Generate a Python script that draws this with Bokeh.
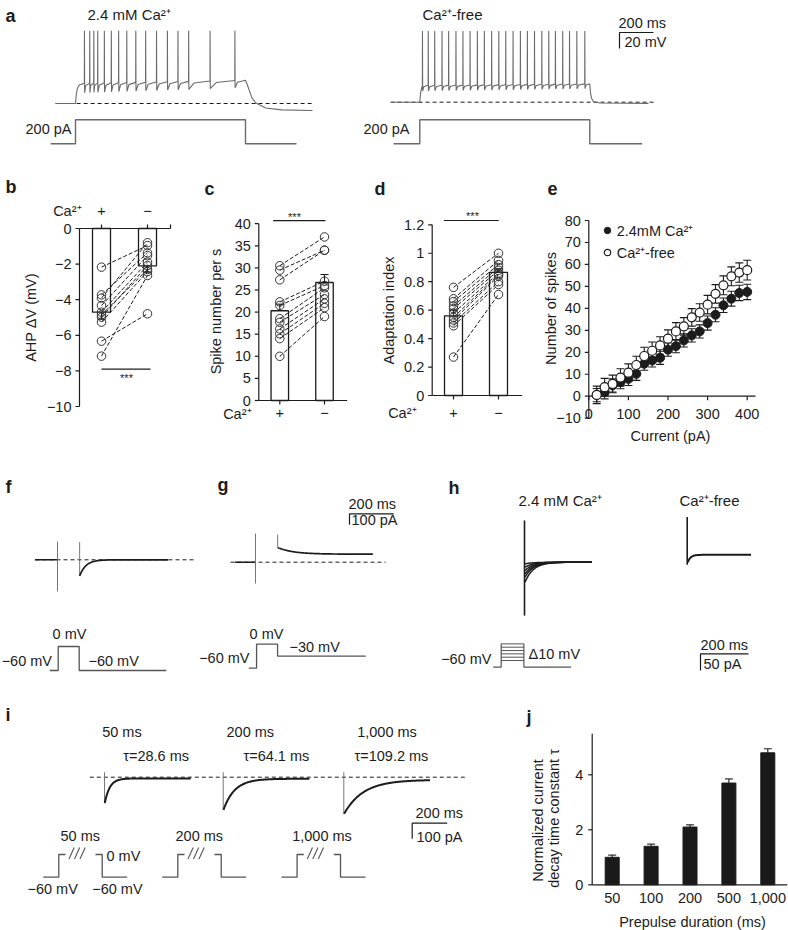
import math
from bokeh.plotting import figure
from bokeh.layouts import column, row
from bokeh.models import (Range1d, Label, Legend, LegendItem, Whisker, ColumnDataSource)
from bokeh.core.properties import value
from bokeh.embed import file_html
from bokeh.resources import INLINE

# ======================= data =======================
# a: spike times (ms after onset of a 1,000 ms, 200 pA current step)
spikes_ca = [52, 83, 107, 130, 169, 210, 253, 301, 354, 412, 476, 540, 602, 665, 791, 937]
spikes_free = [15, 49, 87, 130, 169, 212, 253, 295, 338, 379, 422, 464, 505, 548, 591,
               632, 674, 717, 758, 797, 840, 880, 923, 970]
step_pA = 200
step_ms = 1000

# b: AHP dV (mV), paired cells
ahp_ca = [-2.17, -3.73, -3.91, -4.33, -4.70, -4.98, -5.26, -6.33, -7.17, -4.85]
ahp_free = [-0.96, -1.37, -0.80, -1.52, -1.89, -2.08, -2.42, -4.79, -2.64, -2.30]
ahp_mean = [-4.7, -2.1]
ahp_sem = [0.4, 0.35]
ahp_ticks = [0, -2, -4, -6, -8, -10]

# c: spike number per s
rate_ca = [30.5, 29.5, 27.3, 22.3, 21.5, 18.5, 17.7, 16.2, 15.1, 14.0, 10.0]
rate_free = [37.0, 34.0, 34.0, 27.0, 26.0, 25.5, 24.0, 23.0, 22.0, 21.0, 19.0]
rate_mean = [20.3, 26.7]
rate_sem = [1.5, 1.8]
rate_ticks = [0, 5, 10, 15, 20, 25, 30, 35, 40]

# d: adaptation index
adapt_ca = [0.76, 0.68, 0.66, 0.63, 0.61, 0.58, 0.55, 0.53, 0.51, 0.49, 0.27]
adapt_free = [1.00, 0.95, 0.92, 0.90, 0.88, 0.86, 0.85, 0.84, 0.80, 0.78, 0.71]
adapt_mean = [0.56, 0.865]
adapt_sem = [0.04, 0.025]
adapt_ticks = [0, 0.2, 0.4, 0.6, 0.8, 1.0, 1.2]

cond_labels = ["+", "\u2212"]

# e: number of spikes vs injected current
current_pA = [20, 40, 60, 80, 100, 120, 140, 160, 180, 200,
              220, 240, 260, 280, 300, 320, 340, 360, 380, 400]
nspk_ca = [0.5, 1.8, 4.9, 6.4, 7.9, 10.2, 14.8, 16.3, 17.5, 21.2,
           22.8, 25.4, 27.7, 29.5, 33.3, 37.1, 41.4, 44.4, 47.0, 47.5]
nspk_ca_err = [3.0, 3.0, 3.0, 3.0, 3.0, 3.0, 3.0, 3.0, 3.0, 3.0,
               3.0, 3.0, 3.0, 3.0, 3.2, 3.2, 3.3, 3.4, 3.5, 3.5]
nspk_free = [0.6, 4.1, 5.6, 8.5, 10.7, 14.2, 18.3, 20.7, 23.1, 26.2,
             29.5, 31.8, 35.9, 38.1, 41.7, 46.6, 50.5, 54.6, 56.3, 57.4]
nspk_free_err = [4.0, 4.0, 4.0, 4.0, 4.0, 4.0, 4.0, 4.0, 4.0, 4.0,
                 4.0, 4.0, 4.0, 4.0, 4.2, 4.2, 4.3, 4.3, 4.4, 4.5]
e_xticks = [0, 100, 200, 300, 400]
e_yticks = [-10, 0, 10, 20, 30, 40, 50, 60, 70, 80]

# f: tail current at -60 mV after a 100 ms step to 0 mV
f_step_ms = 100
f_tail_pA = -147
f_tau_ms = 28
f_artifact_pA = [(166, -288), (161, -147)]
# g: tail current at -30 mV
g_tail_peak_pA = 134
g_tail_ss_pA = 73
g_tau_ms = 70
g_artifact_pA = [(261, -194), (252, 134)]
# h: tails after depolarising steps (delta 10 mV)
h_steps_mV = [-40, -30, -20, -10, 0, 10]
h_tail_ca_pA = [-5, -15, -25, -35, -45, -60]
h_tau_ca_ms = 35
h_tail_free_pA = -23
h_tau_free_ms = 12
h_artifact_ca_pA = (125, -160)
h_artifact_free_pA = (113, -30)
# i: tails after 50 / 200 / 1,000 ms prepulses
i_prepulse = ["50 ms", "200 ms", "1,000 ms"]
i_tau_ms = [28.6, 64.1, 109.2]
i_amp_pA = [-158, -199, -218]
i_ss_pA = [-8, -10, -17]
i_artifact_pA = 32
# j: normalised decay time constant
j_labels = ["50", "100", "200", "500", "1,000"]
j_tau_norm = [1.0, 1.4, 2.1, 3.7, 4.8]
j_err = [0.08, 0.08, 0.08, 0.15, 0.15]
j_yticks = [0, 2, 4]

# ======================= helpers =======================
R0 = 0            # the Bokeh page template has no body margin
W_TOT, H_TOT = 788, 930
FONT = "Liberation Sans"
INK = "#1c1c1c"
TR = "#6a6a6a"
PROT = "#555555"


def px(v, lim):
    return max(0, min(lim, int(round(v - R0))))


def fs(v):
    return f"{v:.1f}px"


def base_fig(**kw):
    p = figure(toolbar_location=None, output_backend="svg", x_axis_type=None,
               y_axis_type=None, min_border=0, **kw)
    p.outline_line_color = None
    p.background_fill_color = "white"
    p.border_fill_color = "white"
    return p


def trace_fig(x0, y0, x1, y1):
    P0, P1, Q0, Q1 = px(x0, W_TOT), px(x1, W_TOT), px(y0, H_TOT), px(y1, H_TOT)
    return base_fig(width=P1 - P0, height=Q1 - Q0,
                    x_range=Range1d(P0 + R0, P1 + R0), y_range=Range1d(Q1 + R0, Q0 + R0))


def label(p, x, y, text, size=14.5, align="left", bold=False, angle=0.0,
          color=INK, baseline="middle"):
    p.add_layout(Label(x=x, y=y, text=text, text_font=FONT, text_font_size=fs(size),
                       text_align=align, text_baseline=baseline, angle=angle,
                       text_font_style="bold" if bold else "normal", text_color=color))


def chart_fig(box, xmap, ymap):
    """Figure whose data scale maps values to the layout (layout px = a + b*value)."""
    X0, Y0, X1, Y1 = box
    P0, P1, Q0, Q1 = px(X0, W_TOT), px(X1, W_TOT), px(Y0, H_TOT), px(Y1, H_TOT)
    a, b = xmap
    c, d = ymap

    def xd(r):
        return (r - a) / b

    def yd(r):
        return (r - c) / d

    p = base_fig(width=P1 - P0, height=Q1 - Q0,
                 x_range=Range1d(xd(P0 + R0), xd(P1 + R0)),
                 y_range=Range1d(yd(Q1 + R0), yd(Q0 + R0)))
    return p, xd, yd, P0, Q1


def texts(p, xs, ys, labels, size=14.5, align="center", baseline="middle"):
    p.text(x=xs, y=ys, text=labels, text_font=value(FONT), text_font_size=value(fs(size)),
           text_align=align, text_baseline=baseline, text_color=INK)


def y_axis(p, xd, yd, x_ref, lo, hi, ticks, labels, tick=4, gap=4):
    xa = xd(x_ref)
    p.line([xa, xa], [lo, hi], line_color=INK, line_width=1.2)
    p.segment(x0=[xa] * len(ticks), y0=ticks, x1=[xd(x_ref - tick)] * len(ticks), y1=ticks,
              line_color=INK, line_width=1.2)
    texts(p, [xd(x_ref - tick - gap)] * len(ticks), ticks, labels, align="right")


def x_axis(p, xd, yd, y_ref, lo, hi, ticks, labels, label_y_ref, tick=4, y_val=0.0):
    p.line([lo, hi], [y_val, y_val], line_color=INK, line_width=1.2)
    if tick:
        p.segment(x0=ticks, y0=[y_val] * len(ticks), x1=ticks, y1=[yd(y_ref + tick)] * len(ticks),
                  line_color=INK, line_width=1.2)
    lt = [t for t, s in zip(ticks, labels) if s]
    ls = [s for s in labels if s]
    texts(p, lt, [yd(label_y_ref)] * len(lt), ls)


def num_labels(ticks):
    return [("%g" % t).replace("-", "\u2212") for t in ticks]


def whiskers(p, xs, lo, hi, size=8, lower_head=True):
    src = ColumnDataSource(dict(x=xs, lo=lo, hi=hi))
    w = Whisker(source=src, base="x", lower="lo", upper="hi", dimension="height",
                line_color=INK, line_width=1.1)
    w.upper_head.size = size
    w.upper_head.line_color = INK
    w.upper_head.line_width = 1.1
    if lower_head:
        w.lower_head.size = size
        w.lower_head.line_color = INK
        w.lower_head.line_width = 1.1
    else:
        w.lower_head = None
    p.add_layout(w)


def paired_panel(p, ca, free, mean, sem, bar_w):
    neg = mean[0] < 0
    p.vbar(x=[1, 2], top=[0, 0] if neg else mean, bottom=mean if neg else [0, 0], width=bar_w,
           fill_color="white", line_color=INK, line_width=1.3)
    p.multi_line(xs=[[1, 2] for _ in ca], ys=[[a, b] for a, b in zip(ca, free)],
                 line_color=INK, line_width=1.0, line_dash="4 2")
    p.scatter([1] * len(ca), ca, marker="circle", size=8.5, fill_color=None,
              line_color="#333333", line_width=1.0)
    p.scatter([2] * len(free), free, marker="circle", size=8.5, fill_color=None,
              line_color="#333333", line_width=1.0)
    whiskers(p, [1, 2], [m - e for m, e in zip(mean, sem)],
             [m + e for m, e in zip(mean, sem)], size=8)


CA = "Ca\u00b2\u207a"

# ======================= panel a =======================
pa = trace_fig(0, 0, 788, 165)
label(pa, 5, 15.5, "a", 18, bold=True, baseline="alphabetic")
A_MS_PX = 200 / 34
A_MV_PX = 20 / 16
A_PA_PX = 200 / 24


def membrane(spikes, rest, rise, pre, trough, peak, off, t_start):
    T = [t_start, 0.0]
    V = [rest, rest]
    for t, v in rise:
        T.append(t)
        V.append(v)
    for k, ts in enumerate(spikes):
        fr = ts / step_ms
        vp = pre[0] + (pre[1] - pre[0]) * fr
        vt = trough[0] + (trough[1] - trough[0]) * fr
        nxt = spikes[k + 1] if k + 1 < len(spikes) else step_ms
        fr2 = nxt / step_ms
        vp2 = pre[0] + (pre[1] - pre[0]) * fr2
        gap = nxt - ts
        T += [ts, ts + 0.7, ts + 1.8, ts + 0.25 * gap, nxt - 0.5]
        V += [vp, peak, vt, vt + 0.75 * (vp2 - vt), vp2]
    for t, v in off:
        T.append(t)
        V.append(v)
    return T, V


a_cfg = [
    dict(x_on=75.0, y_rest=103.0, spikes=spikes_ca, t0=-117, t_dash=(-117, 1394),
         rise=[(4, -60), (10, -52), (22, -47), (40, -45.5)], pre=(-45, -41),
         trough=(-57, -50), peak=21,
         off=[(1008, -45), (1038, -63), (1061, -69.4), (1119, -75.6), (1213, -78), (1394, -78.8)],
         cur=(-146, 1300), pa_x=71, title=("2.4 mM " + CA, 87)),
    dict(x_on=419.3, y_rest=101.7, spikes=spikes_free, t0=-161, t_dash=(-172, 1386),
         rise=[(5, -58), (11, -52)], pre=(-49, -47), trough=(-56, -53), peak=19,
         off=[(1004, -58), (1010, -65), (1022, -69.5), (1060, -71), (1345, -71.5)],
         cur=(-155, 1308), pa_x=409, title=(CA + "-free", 422)),
]
for cfg in a_cfg:
    T, V = membrane(cfg["spikes"], -70, cfg["rise"], cfg["pre"], cfg["trough"],
                    cfg["peak"], cfg["off"], cfg["t0"])
    xs = [cfg["x_on"] + t / A_MS_PX for t in T]
    ys = [cfg["y_rest"] - (v + 70) / A_MV_PX for v in V]
    td0, td1 = cfg["t_dash"]
    pa.line([cfg["x_on"] + td0 / A_MS_PX, cfg["x_on"] + td1 / A_MS_PX],
            [cfg["y_rest"], cfg["y_rest"]], line_color=INK, line_width=1.0, line_dash="4 3")
    pa.line(xs, ys, line_color=TR, line_width=1.1)
    c0, c1 = cfg["cur"]
    CT = [c0, 0, 0, step_ms, step_ms, c1]
    CI = [0, 0, step_pA, step_pA, 0, 0]
    pa.line([cfg["x_on"] + t / A_MS_PX for t in CT], [143.3 - i / A_PA_PX for i in CI],
            line_color=TR, line_width=1.4)
    label(pa, cfg["pa_x"], 128, "200 pA", 14.5, align="right")
    label(pa, cfg["title"][1], 14, cfg["title"][0], 15)
SBX, SBY = 619, 32
pa.line([SBX + 200 / A_MS_PX, SBX, SBX], [SBY, SBY, SBY + 20 / A_MV_PX],
        line_color=INK, line_width=1.2)
label(pa, 618, 22, "200 ms", 14.5)
label(pa, 624, 41, "20 mV", 14.5)

# ======================= panel b =======================
pb, bxd, byd, _, _ = chart_fig((0, 165, 195, 445), (55, 46), (228, -17.8))
paired_panel(pb, ahp_ca, ahp_free, ahp_mean, ahp_sem, 18 / 46)
y_axis(pb, bxd, byd, 79, -10, 0, ahp_ticks, num_labels(ahp_ticks))
pb.line([bxd(79), bxd(170)], [0, 0], line_color=INK, line_width=1.2)
pb.segment(x0=[1, 2, bxd(170)], y0=[0, 0, 0], x1=[1, 2, bxd(170)], y1=[byd(224)] * 3,
           line_color=INK, line_width=1.2)
texts(pb, [1, 2], [byd(210)] * 2, cond_labels)
label(pb, bxd(81), byd(210), CA, 14.5, align="right")
label(pb, bxd(30), byd(317), "AHP \u0394V (mV)", 14.5, align="center", angle=math.pi / 2)
pb.line([1, bxd(150)], [-7.9, -7.9], line_color=INK, line_width=1.1)
label(pb, bxd(126), byd(377), "***", 11, align="center")
label(pb, bxd(5), byd(186), "b", 18, bold=True)

# ======================= panel c =======================
pc, cxd, cyd, _, _ = chart_fig((195, 165, 370, 445), (234.6, 44.7), (400, -4.42))
paired_panel(pc, rate_ca, rate_free, rate_mean, rate_sem, 17.5 / 44.7)
y_axis(pc, cxd, cyd, 258.3, 0, 40, rate_ticks, num_labels(rate_ticks))
x_axis(pc, cxd, cyd, 400, cxd(258.3), cxd(346.7), [1, 2], cond_labels, 412.5)
label(pc, cxd(251), cyd(413), CA, 14.5, align="right")
label(pc, cxd(215), cyd(311), "Spike number per s", 14.5, align="center", angle=math.pi / 2)
pc.line([cxd(272.7), cxd(325)], [40.7, 40.7], line_color=INK, line_width=1.1)
label(pc, cxd(294), cyd(216), "***", 11, align="center")
label(pc, cxd(204), cyd(188), "c", 18, bold=True)

# ======================= panel d =======================
pd_, dxd, dyd, _, _ = chart_fig((370, 165, 535, 445), (408, 45), (395, -142.25))
paired_panel(pd_, adapt_ca, adapt_free, adapt_mean, adapt_sem, 18 / 45)
y_axis(pd_, dxd, dyd, 431.7, 0, 1.2, adapt_ticks, num_labels(adapt_ticks))
x_axis(pd_, dxd, dyd, 395, dxd(431.7), dxd(521.7), [1, 2], cond_labels, 412)
label(pd_, dxd(416), dyd(412), CA, 14.5, align="right")
label(pd_, dxd(388), dyd(310), "Adaptation index", 14.5, align="center", angle=math.pi / 2)
pd_.line([dxd(443.3), dxd(498.3)], [1.23, 1.23], line_color=INK, line_width=1.1)
label(pd_, dxd(472), dyd(215), "***", 11, align="center")
label(pd_, dxd(374), dyd(188), "d", 18, bold=True)

# ======================= panel e =======================
pe, exd, eyd, EP0, EQ1 = chart_fig((535, 165, 788, 445), (588.3, 0.396), (395.7, -2.196))
y_axis(pe, exd, eyd, 588.3, -10, 80, e_yticks, num_labels(e_yticks))
x_axis(pe, exd, eyd, 395.7, 0, exd(755), e_xticks, num_labels(e_xticks), 413)
label(pe, exd(670), eyd(435), "Current (pA)", 14.5, align="center")
label(pe, exd(550), eyd(308), "Number of spikes", 14.5, align="center", angle=math.pi / 2)
whiskers(pe, current_pA, [v - e for v, e in zip(nspk_ca, nspk_ca_err)],
         [v + e for v, e in zip(nspk_ca, nspk_ca_err)], size=8)
whiskers(pe, current_pA, [v - e for v, e in zip(nspk_free, nspk_free_err)],
         [v + e for v, e in zip(nspk_free, nspk_free_err)], size=8)
r_ca = pe.scatter(current_pA, nspk_ca, marker="circle", size=9, fill_color=INK,
                  line_color=INK, line_width=1.0)
r_free = pe.scatter(current_pA, nspk_free, marker="circle", size=9, fill_color="white",
                    line_color=INK, line_width=1.2)
leg = Legend(items=[LegendItem(label="2.4mM " + CA, renderers=[r_ca]),
                    LegendItem(label=CA + "-free", renderers=[r_free])],
             location=((598.7 - R0) - EP0, EQ1 - (262.3 - R0)),
             border_line_color=None, background_fill_alpha=0.0, padding=0, margin=0,
             spacing=2, glyph_width=16, glyph_height=16, label_height=16, label_standoff=2,
             label_text_font=FONT, label_text_font_size=fs(14.5), label_text_color=INK)
pe.add_layout(leg)
label(pe, exd(547), eyd(188), "e", 18, bold=True)

# ======================= panels f, g, h =======================
pf = trace_fig(0, 445, 788, 700)
label(pf, 5, 486, "f", 18, bold=True)
label(pf, 217, 484, "g", 18, bold=True)
label(pf, 448, 487, "h", 18, bold=True)
FG_MS_PX = 200 / 44.3
FG_PA_PX = 100 / 11.0


def tail_xy(x0, y0, ms_px, pa_px, amp, tau, ss, t_end, n=160):
    T = [t_end * k / (n - 1) for k in range(n)]
    return ([x0 + t / ms_px for t in T],
            [y0 - (ss + amp * math.exp(-t / tau)) / pa_px for t in T])


def cur_y(y0, pa_px, i):
    return y0 - i / pa_px


# f
FX0, FY0 = 57.0, 559.3
pf.line([35, 193], [FY0, FY0], line_color=INK, line_width=1.0, line_dash="4 3")
pf.line([FX0 - 102 / FG_MS_PX, FX0], [FY0, FY0], line_color=INK, line_width=1.6)
for k, (up, dn) in enumerate(f_artifact_pA):
    xa = FX0 + k * f_step_ms / FG_MS_PX
    pf.line([xa, xa], [cur_y(FY0, FG_PA_PX, up), cur_y(FY0, FG_PA_PX, dn)],
            line_color="#777777", line_width=1.0)
xs, ys = tail_xy(FX0 + f_step_ms / FG_MS_PX, FY0, FG_MS_PX, FG_PA_PX, f_tail_pA, f_tau_ms, 0, 400)
pf.line(xs, ys, line_color=INK, line_width=1.7)

# g
GX0, GY0 = 255.0, 561.7
pf.line([230, 385], [GY0, GY0], line_color=INK, line_width=1.0, line_dash="4 3")
pf.line([GX0 - 93 / FG_MS_PX, GX0], [GY0, GY0], line_color=INK, line_width=1.6)
for k, (up, dn) in enumerate(g_artifact_pA):
    xa = GX0 + k * f_step_ms / FG_MS_PX
    pf.line([xa, xa], [cur_y(GY0, FG_PA_PX, up), cur_y(GY0, FG_PA_PX, dn)],
            line_color="#777777", line_width=1.0)
xs, ys = tail_xy(GX0 + f_step_ms / FG_MS_PX, GY0, FG_MS_PX, FG_PA_PX,
                 g_tail_peak_pA - g_tail_ss_pA, g_tau_ms, g_tail_ss_pA, 430)
pf.line(xs, ys, line_color=INK, line_width=1.7)
pf.line([349 + 200 / FG_MS_PX, 349, 349], [513.3, 513.3, 513.3 + 100 / FG_PA_PX],
        line_color=INK, line_width=1.2)
label(pf, 348, 503, "200 ms", 14.5)
label(pf, 351, 519, "100 pA", 14.5)

# h
H_MS_PX = 200 / 48
H_PA_PX = 50 / 16.7
HX0, HY0 = 524.0, 561.7
pf.line([HX0, HX0], [cur_y(HY0, H_PA_PX, h_artifact_ca_pA[0]), cur_y(HY0, H_PA_PX, h_artifact_ca_pA[1])],
        line_color=INK, line_width=1.6)
for amp in h_tail_ca_pA:
    xs, ys = tail_xy(HX0 + 0.5, HY0, H_MS_PX, H_PA_PX, amp, h_tau_ca_ms, 0, 279)
    pf.line(xs, ys, line_color=INK, line_width=1.5)
HX1, HY1 = 686.7, 554.3
pf.line([HX1, HX1], [cur_y(HY1, H_PA_PX, h_artifact_free_pA[0]), cur_y(HY1, H_PA_PX, h_artifact_free_pA[1])],
        line_color=INK, line_width=1.6)
xs, ys = tail_xy(HX1 + 0.5, HY1, H_MS_PX, H_PA_PX, h_tail_free_pA, h_tau_free_ms, 0, 264)
pf.line(xs, ys, line_color=INK, line_width=2.0)
label(pf, 518, 500, "2.4 mM " + CA, 15)
label(pf, 679, 500, CA + "-free", 15)
pf.line([700 + 200 / H_MS_PX, 700, 700], [653.3, 653.3, 653.3 + 50 / H_PA_PX],
        line_color=INK, line_width=1.2)
label(pf, 700, 644, "200 ms", 14.5)
label(pf, 703, 663, "50 pA", 14.5)

# voltage protocols (f, g, h)
P_MS_PX = 100 / 21.0
P_PX_MV = 0.4


def protocol(p, x0, y60, segs, px_mv=P_PX_MV):
    xs, ys = [x0], [y60]
    x = x0
    for dur, mv in segs:
        y = y60 - (mv + 60) * px_mv
        xs.append(x)
        ys.append(y)
        x += dur / P_MS_PX
        xs.append(x)
        ys.append(y)
    p.line(xs, ys, line_color=PROT, line_width=1.3)


protocol(pf, 49.3, 670.0, [(40, -60), (f_step_ms, 0), (415, -60)])
label(pf, 69, 633, "0 mV", 14.5, align="center")
label(pf, 51.5, 660, "\u221260 mV", 14.5, align="right")
label(pf, 88, 660, "\u221260 mV", 14.5)
protocol(pf, 248.3, 667.7, [(37, -60), (f_step_ms, 0), (420, -30)])
label(pf, 266, 633, "0 mV", 14.5, align="center")
label(pf, 249, 657, "\u221260 mV", 14.5, align="right")
label(pf, 289, 646, "\u221230 mV", 14.5)
H_PX_MV = 1 / 3.0
HPX0, HPY = 492.7, 666.7
hx_on = HPX0 + 38 / P_MS_PX
hx_off = hx_on + 108 / P_MS_PX
pf.line([HPX0, hx_on, hx_on], [HPY, HPY, HPY - (max(h_steps_mV) + 60) * H_PX_MV],
        line_color=PROT, line_width=1.2)
pf.multi_line([[hx_on, hx_off] for _ in h_steps_mV],
              [[HPY - (v + 60) * H_PX_MV] * 2 for v in h_steps_mV],
              line_color=PROT, line_width=1.0)
pf.line([hx_off, hx_off, hx_off + 225 / P_MS_PX],
        [HPY - (max(h_steps_mV) + 60) * H_PX_MV, HPY, HPY], line_color=PROT, line_width=1.2)
label(pf, 491, 658, "\u221260 mV", 14.5, align="right")
label(pf, 528, 653, "\u039410 mV", 14.5)

# ======================= panel i =======================
pi = trace_fig(0, 700, 470, 930)
label(pi, 5, 714, "i", 18, bold=True)
I_MS_PX = 200 / 35
I_PA_PX = 100 / 15.6
IY0 = 776.7
I_X = [104.0, 222.7, 343.3]
I_LBL_DX = [-2.3, 3.3, 13.4]
I_TAU_DX = [18.7, 20.3, 10.7]
pi.line([89.3, 465], [IY0, IY0], line_color=INK, line_width=1.0, line_dash="4 3")
for k in range(3):
    x0 = I_X[k]
    start = i_ss_pA[k] + i_amp_pA[k]
    pi.line([x0, x0], [cur_y(IY0, I_PA_PX, i_artifact_pA), cur_y(IY0, I_PA_PX, start)],
            line_color="#777777", line_width=1.0)
    xs, ys = tail_xy(x0 + 0.3, IY0, I_MS_PX, I_PA_PX, i_amp_pA[k], i_tau_ms[k], i_ss_pA[k], 491)
    pi.line(xs, ys, line_color=INK, line_width=2.0)
    label(pi, x0 + I_LBL_DX[k], 731, i_prepulse[k], 14.5)
    label(pi, x0 + I_TAU_DX[k], 755, "\u03c4=%s ms" % i_tau_ms[k], 14.5)
pi.line([411.7 + 200 / I_MS_PX, 411.7, 411.7], [822.7, 822.7, 822.7 + 100 / I_PA_PX],
        line_color=INK, line_width=1.2)
label(pi, 415, 812.5, "200 ms", 14.5)
label(pi, 416, 836, "100 pA", 14.5)
IP_X = [42.7, 161.7, 281.0]
IP_LBL_DX = [17.3, 13.3, 10.7]
IP_LO, IP_HI = 876.7, 854.0
for k, x0 in enumerate(IP_X):
    xu = x0 + 15.6
    pi.line([x0, xu, xu, xu + 6.7], [IP_LO, IP_LO, IP_HI, IP_HI], line_color=PROT, line_width=1.3)
    xr = xu + 36.7
    pi.line([xr, xr + 6.7, xr + 6.7, xr + 31.7], [IP_HI, IP_HI, IP_LO, IP_LO],
            line_color=PROT, line_width=1.3)
    pi.multi_line([[xu + 10.2 + 5.5 * j, xu + 15.4 + 5.5 * j] for j in range(3)],
                  [[858.5, 847.0] for j in range(3)], line_color=PROT, line_width=1.1)
    label(pi, x0 + IP_LBL_DX[k], 835, i_prepulse[k], 14.5)
label(pi, 106, 855, "0 mV", 14.5)
label(pi, 27, 888, "\u221260 mV", 14.5)
label(pi, 91.7, 888, "\u221260 mV", 14.5)

# ======================= panel j =======================
pj, jxd, jyd, _, _ = chart_fig((470, 700, 788, 930), (572.8, 38.9), (884.3, -27.5))
jx = [1, 2, 3, 4, 5]
pj.vbar(x=jx, top=j_tau_norm, bottom=0, width=14 / 38.9, fill_color="#1a1a1a",
        line_color="#1a1a1a")
whiskers(pj, jx, j_tau_norm, [v + e for v, e in zip(j_tau_norm, j_err)], size=8,
         lower_head=False)
y_axis(pj, jxd, jyd, 591.7, 0, jyd(733.3), j_yticks, num_labels(j_yticks), gap=5)
x_axis(pj, jxd, jyd, 884.3, jxd(591.7), jxd(786.7), jx, j_labels, 897, tick=0)
label(pj, jxd(692), jyd(921), "Prepulse duration (ms)", 14.5, align="center")
label(pj, jxd(537), jyd(820), "Normalized current", 14.5, align="center", angle=math.pi / 2)
label(pj, jxd(553.5), jyd(818), "decay time constant \u03c4", 14.5, align="center",
      angle=math.pi / 2)
label(pj, jxd(526), jyd(716), "j", 18, bold=True)

layout = column(pa, row(pb, pc, pd_, pe, spacing=0), pf, row(pi, pj, spacing=0), spacing=0)
open("out.html", "w").write(file_html(layout, INLINE))
